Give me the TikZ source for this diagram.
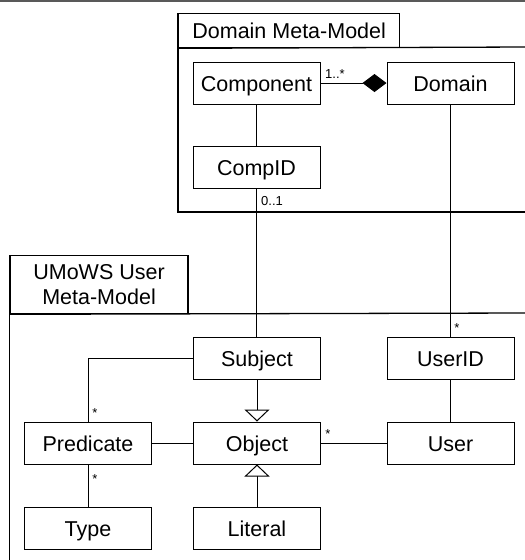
\documentclass[tikz,border=0pt]{standalone}
\usepackage{fontspec}
\setmainfont{Liberation Sans}
\usetikzlibrary{arrows.meta}
\begin{document}
\begin{tikzpicture}[x=1pt,y=-1pt,
  cls/.style={draw,line width=1pt,minimum width=127pt,minimum height=42pt,inner sep=0pt,
    text height=16pt,text depth=0pt,font=\fontsize{21.5}{25}\selectfont},
  frame/.style={line width=1.3pt},
  tab/.style={draw,line width=1.3pt,inner sep=0pt,font=\fontsize{21.5}{25}\selectfont,align=center},
  conn/.style={line width=1pt},
  mult/.style={inner sep=0pt,font=\fontsize{13}{15}\selectfont},
  gen/.style={line width=1pt,-{Triangle[open,length=12pt,width=25pt,fill=white]}},
  comp/.style={line width=1pt,-{Diamond[length=24pt,width=18pt]}}
]
\useasboundingbox (0,0) rectangle (525,560);
\draw[line width=2pt,color=black!65] (0,1) -- (525,1);
% Domain frame
\node[tab,minimum width=221pt,minimum height=34pt,text height=16pt,text depth=0pt,anchor=north west] (dtab) at (178,13) {Domain Meta-Model};
\coordinate (dtl) at (178,13);
\coordinate (dbl) at (178,212);
\coordinate (dhr) at (526,47);
\coordinate (dbr) at (526,212);
\draw[frame] (dtl) -- (dbl) -- (dbr);
\draw[frame] (dtab.south west) -- (dhr);
% User frame
\node[tab,minimum width=178pt,minimum height=58pt,anchor=north west] (utab) at (9.4,255) {UMoWS User\\Meta-Model};
\coordinate (ubl) at (9.4,561);
\coordinate (uhr) at (526,313);
\draw[frame] (utab.north west) -- (ubl);
\draw[frame] (utab.south west) -- (uhr);
% classes
\node[cls] (component) at (256.5,83) {Component};
\node[cls] (domain) at (450.5,83) {Domain};
\node[cls] (compid) at (256.5,167.5) {CompID};
\node[cls] (subject) at (257,358) {Subject};
\node[cls] (userid) at (450.5,358) {UserID};
\node[cls] (predicate) at (88,443) {Predicate};
\node[cls] (object) at (257,443) {Object};
\node[cls] (user) at (450.5,443) {User};
\node[cls] (type) at (88,528) {Type};
\node[cls] (literal) at (257,528) {Literal};
% connectors
\draw[comp] (component) -- (domain);
\draw[conn] (component) -- (compid);
\draw[conn] (compid.south) -- (compid.south |- subject.north);
\draw[conn] (domain) -- (userid);
\draw[conn] (subject.west) -| (predicate.north);
\draw[gen] (subject) -- (object);
\draw[gen] (literal) -- (object);
\draw[conn] (predicate) -- (object);
\draw[conn] (object) -- (user);
\draw[conn] (predicate) -- (type);
\draw[conn] (userid) -- (user);
% multiplicities
\node[mult,anchor=base west] (m1) at (325,78) {1..*};
\node[mult,anchor=base west] (m2) at (261,205) {0..1};
\node[mult,anchor=base] (m3) at (457,332.5) {*};
\node[mult,anchor=base] (m4) at (95,417.5) {*};
\node[mult,anchor=base] (m5) at (95,483.5) {*};
\node[mult,anchor=base] (m6) at (328,438.5) {*};
\end{tikzpicture}
\end{document}
